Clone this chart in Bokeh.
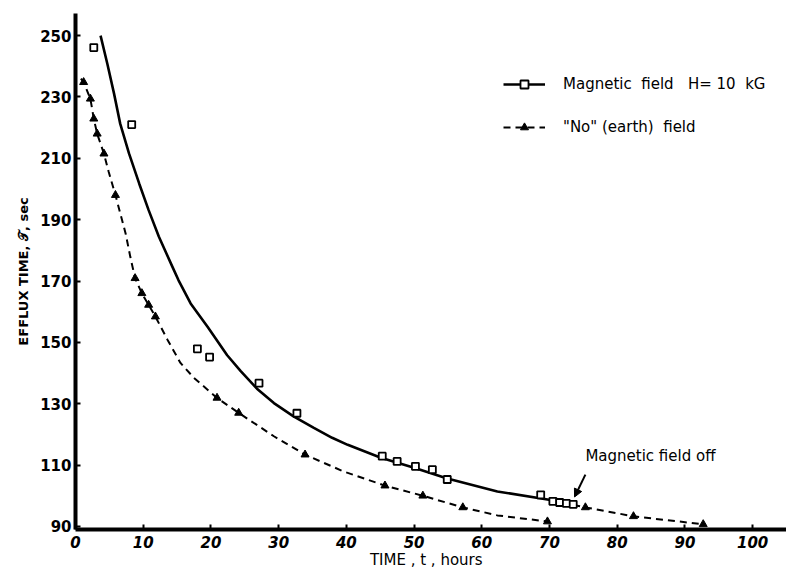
from bokeh.plotting import figure
from bokeh.models import Range1d, Legend, LegendItem, Label, Arrow, NormalHead, FixedTicker
from bokeh.embed import file_html
from bokeh.resources import INLINE

# ---- data ----
x_ticks = [0, 10, 20, 30, 40, 50, 60, 70, 80, 90, 100]
y_ticks = [90, 110, 130, 150, 170, 190, 210, 230, 250]

# Magnetic field H = 10 kG : measured points
mag_t = [2.7, 8.3, 18.0, 19.8, 27.1, 32.7, 45.3, 47.5, 50.2, 52.7, 54.9, 68.7, 70.5, 71.5, 72.5, 73.5]
mag_tau = [246.1, 221.0, 147.9, 145.2, 136.7, 126.9, 112.9, 111.2, 109.6, 108.5, 105.3, 100.3, 98.2, 97.8, 97.5, 97.2]
# Magnetic field : drawn curve
mag_curve_t = [3.7, 4.7, 5.7, 6.6, 7.9, 9.4, 10.8, 12.3, 14.3, 15.2, 17.0, 19.5, 22.4, 24.4, 26.8,
               29.3, 32.2, 35.2, 37.9, 40.2, 45.1, 50.0, 54.9, 62.3, 69.7, 73.5]
mag_curve_tau = [250.0, 240.8, 231.0, 221.3, 211.6, 201.8, 193.1, 184.5, 174.7, 170.3, 162.7, 155.1, 145.8,
                 140.6, 134.9, 130.2, 125.9, 122.1, 118.9, 116.6, 112.4, 109.1, 105.6, 101.4, 98.8, 97.0]

# "No" (earth) field : measured points
no_t = [1.2, 2.2, 2.7, 3.2, 4.2, 5.9, 8.8, 9.8, 10.8, 11.8, 20.9, 24.1, 33.9, 45.7, 51.3, 57.2, 69.7]
no_tau = [234.8, 229.4, 222.9, 218.0, 211.5, 198.0, 170.9, 166.0, 162.2, 158.4, 131.9, 127.0, 113.4, 103.3, 100.0, 96.2, 91.6]
# "No" field : drawn dashed curve
no_curve_t = [0.8, 1.2, 2.2, 2.7, 3.2, 4.2, 4.9, 5.9, 7.4, 8.1, 8.8, 9.8, 10.8, 11.8, 13.6, 15.5, 17.5,
              20.9, 24.1, 29.3, 33.9, 39.5, 45.7, 51.3, 57.2, 62.3, 69.7]
no_curve_tau = [236.0, 234.8, 229.4, 222.9, 218.0, 211.5, 205.6, 198.0, 185.5, 177.8, 170.9, 166.0, 162.2,
                158.4, 150.8, 143.3, 138.4, 131.9, 127.0, 119.4, 113.4, 108.0, 103.3, 100.0, 96.2, 93.6, 91.6]

# after the magnetic field was switched off
off_t = [75.3, 82.4, 92.7]
off_tau = [96.2, 93.3, 90.7]
off_curve_t = [73.5, 75.3, 82.4, 92.7]
off_curve_tau = [97.0, 96.2, 93.3, 90.7]

FONT = "DejaVu Sans"

p = figure(width=786, height=571,
           x_range=Range1d(0, 105.0), y_range=Range1d(89, 257.2),
           output_backend="svg", toolbar_location=None,
           min_border_left=75, min_border_right=0, min_border_top=13, min_border_bottom=40)
p.outline_line_color = None
p.xgrid.visible = False
p.ygrid.visible = False
p.background_fill_color = "white"

# curves
mag_line = p.line(mag_curve_t, mag_curve_tau, line_color="black", line_width=2.6)
no_line = p.line(no_curve_t, no_curve_tau, line_color="black", line_width=2, line_dash="7 5")
p.line(off_curve_t, off_curve_tau, line_color="black", line_width=2, line_dash="7 5")

# points
mag_pts = p.scatter(mag_t, mag_tau, marker="square", size=7, fill_color="white",
                    line_color="black", line_width=1.8)
no_pts = p.scatter(no_t, no_tau, marker="triangle", size=8, fill_color="black", line_color="black")
p.scatter(off_t, off_tau, marker="triangle", size=8, fill_color="black", line_color="black")

# axes
for ax in (p.xaxis[0], p.yaxis[0]):
    ax.axis_line_width = 4
    ax.axis_line_color = "black"
    ax.major_tick_in = 5
    ax.major_tick_out = 0
    ax.major_tick_line_width = 2
    ax.minor_tick_line_color = None
    ax.major_label_text_font = FONT
    ax.major_label_text_font_size = "15px"
    ax.major_label_text_color = "black"
    ax.axis_label_text_font = FONT
    ax.axis_label_text_color = "black"

p.xaxis.ticker = FixedTicker(ticks=x_ticks)
p.yaxis.ticker = FixedTicker(ticks=y_ticks)
p.xaxis.major_label_text_font_style = "bold italic"
p.yaxis.major_label_text_font_style = "bold"
p.xaxis.major_label_standoff = 6
p.yaxis.major_label_standoff = 4

p.xaxis.axis_label = "TIME ,  t ,  hours"
p.xaxis.axis_label_text_font_size = "15px"
p.xaxis.axis_label_text_font_style = "normal"
p.xaxis.axis_label_standoff = 0

p.yaxis.axis_label = "EFFLUX TIME, \U0001D4AF, sec"
p.yaxis.axis_label_text_font_size = "13px"
p.yaxis.axis_label_text_font_style = "bold"
p.yaxis.axis_label_standoff = 6

# legend
legend = Legend(items=[
    LegendItem(label="Magnetic  field   H= 10  kG", renderers=[mag_line, mag_pts]),
    LegendItem(label='"No" (earth)  field', renderers=[no_line, no_pts]),
], location=(428, 392))
legend.padding = 0
legend.margin = 0
legend.spacing = 23
legend.glyph_width = 42
legend.label_standoff = 18
legend.border_line_alpha = 0
legend.background_fill_alpha = 0
legend.label_text_font = FONT
legend.label_text_font_size = "15px"
legend.label_text_color = "black"
p.add_layout(legend)

# annotation
p.add_layout(Label(x=75.3, y=112.8, text="Magnetic  field  off", text_font=FONT,
                   text_font_size="15px", text_baseline="middle", text_color="black"))
p.add_layout(Arrow(end=NormalHead(size=8, fill_color="black", line_color="black"),
                   x_start=75.3, y_start=106.9, x_end=73.7, y_end=99.6,
                   line_width=2, line_color="black"))

open("out.html", "w").write(file_html(p, INLINE))
